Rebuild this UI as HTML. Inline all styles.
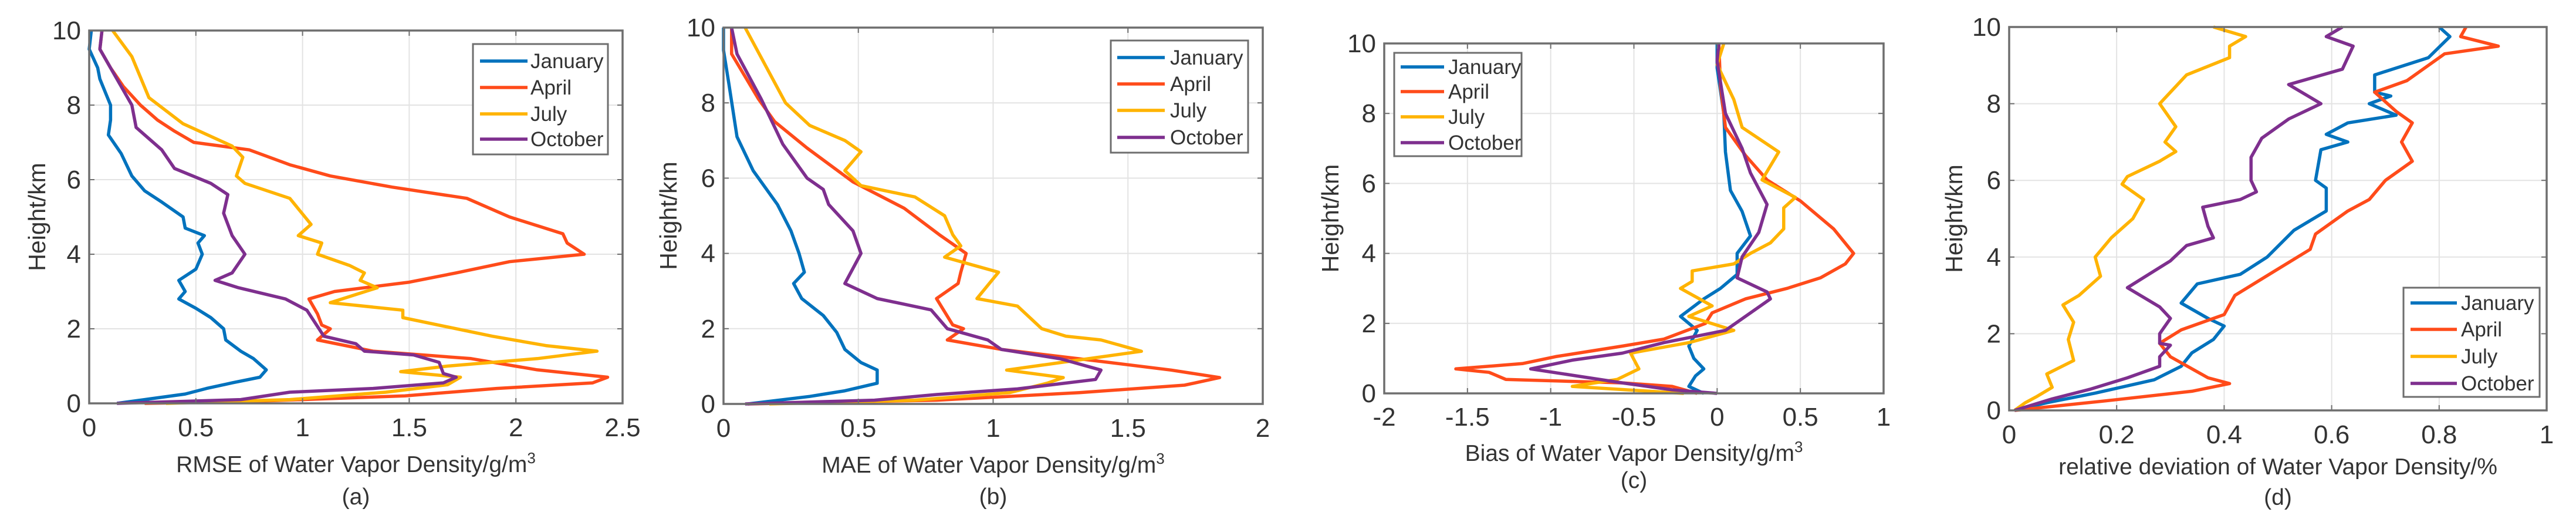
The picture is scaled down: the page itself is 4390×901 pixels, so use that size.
<!DOCTYPE html>
<html><head><meta charset="utf-8"><style>
html,body{margin:0;padding:0;background:#fff;}
svg{display:block;font-family:"Liberation Sans",Arial,sans-serif;}
</style></head>
<body>
<svg id="fig" width="4390" height="901" viewBox="0 0 4390 901" xmlns="http://www.w3.org/2000/svg"></svg>
<script>
// ---- shared ----
const seriesNames = ["January","April","July","October"];
const seriesColors = ["#0072BD","#FF4B1A","#FFB300","#7E2F8E"];
const yTicks = [0,2,4,6,8,10];

// ---- panel (a) RMSE ----
const aXTicks = [0,0.5,1,1.5,2,2.5];
const aXTickLabels = ["0","0.5","1","1.5","2","2.5"];
const aJanH = [10,9.5,9,8.7,8,7.6,7.2,6.7,6.1,5.7,5.4,5.0,4.7,4.5,4.3,4.0,3.6,3.3,3.0,2.8,2.55,2.3,2.0,1.7,1.4,1.2,0.9,0.7,0.55,0.4,0.25,0.1,0];
const aJanX = [0.01,0,0.04,0.05,0.1,0.1,0.09,0.15,0.2,0.26,0.34,0.44,0.45,0.54,0.51,0.53,0.5,0.42,0.45,0.42,0.5,0.57,0.63,0.64,0.71,0.77,0.83,0.8,0.67,0.55,0.45,0.26,0.13];
const aAprH = [10,9.5,9,8.5,8,7.6,7.3,7,6.8,6.4,6.1,5.8,5.5,5,4.55,4.3,4,3.8,3.5,3.25,3.0,2.8,2.4,2.1,2.0,1.7,1.4,1.2,0.9,0.7,0.55,0.4,0.2,0.05,0];
const aAprX = [0.06,0.05,0.1,0.16,0.24,0.32,0.4,0.49,0.75,0.94,1.13,1.42,1.77,1.97,2.22,2.24,2.32,1.97,1.72,1.5,1.15,1.03,1.07,1.09,1.13,1.07,1.33,1.79,2.1,2.43,2.36,1.91,1.48,0.75,0.26];
const aJulH = [10,9.3,8.2,7.5,6.9,6.6,6.1,5.9,5.5,4.8,4.5,4.3,4.0,3.7,3.5,3.3,3.1,2.7,2.5,2.3,1.8,1.55,1.4,1.2,1.0,0.85,0.7,0.5,0.3,0.1,0];
const aJulX = [0.11,0.2,0.28,0.44,0.67,0.72,0.69,0.73,0.94,1.04,0.98,1.09,1.07,1.22,1.29,1.27,1.35,1.13,1.47,1.47,1.89,2.14,2.38,2.1,1.68,1.46,1.74,1.68,1.39,0.94,0.36];
const aOctH = [10,9.5,8.9,8,7.4,6.8,6.3,5.9,5.6,5.1,4.5,4,3.5,3.3,3.1,2.8,2.5,1.8,1.6,1.4,1.3,1.1,0.8,0.7,0.55,0.4,0.3,0.1,0];
const aOctX = [0.06,0.05,0.11,0.2,0.22,0.34,0.4,0.57,0.65,0.63,0.67,0.73,0.67,0.59,0.7,0.92,1.02,1.1,1.25,1.29,1.52,1.64,1.66,1.72,1.66,1.33,0.94,0.71,0.13];

// ---- panel (b) MAE ----
const bXTicks = [0,0.5,1,1.5,2];
const bXTickLabels = ["0","0.5","1","1.5","2"];
const bJanH = [10,9.4,8.5,7.1,6.2,5.3,4.6,4,3.5,3.2,2.8,2.35,1.9,1.45,1.1,0.9,0.55,0.35,0.2,0];
const bJanX = [0,0,0.02,0.05,0.11,0.2,0.25,0.28,0.3,0.26,0.29,0.37,0.42,0.45,0.51,0.57,0.57,0.45,0.32,0.09];
const bAprH = [10,9.3,8.1,7.5,6.8,5.9,5.2,4.5,4,3.5,3.2,2.8,2.1,2.0,1.7,1.45,1.2,0.9,0.7,0.5,0.3,0.1,0];
const bAprX = [0.03,0.03,0.13,0.19,0.31,0.48,0.67,0.8,0.9,0.88,0.87,0.79,0.85,0.89,0.83,1.03,1.32,1.66,1.84,1.71,1.32,0.79,0.09];
const bJulH = [10,8,7.4,7.0,6.7,6.2,5.8,5.5,5,4.5,4.2,3.9,3.5,2.8,2.6,2.0,1.8,1.7,1.4,1.1,0.9,0.7,0.55,0.3,0.1,0];
const bJulX = [0.08,0.23,0.32,0.45,0.51,0.45,0.51,0.71,0.82,0.85,0.88,0.82,1.02,0.94,1.09,1.18,1.27,1.4,1.55,1.25,1.05,1.26,1.2,1.06,0.71,0.17];
const bOctH = [10,9.3,8.1,6.9,6.0,5.7,5.3,4.6,4,3.2,2.8,2.5,2,1.7,1.45,1.2,0.9,0.65,0.4,0.25,0.1,0];
const bOctX = [0.03,0.05,0.14,0.22,0.31,0.37,0.39,0.48,0.51,0.45,0.57,0.77,0.83,0.98,1.03,1.25,1.4,1.38,1.09,0.79,0.56,0.08];

// ---- panel (c) Bias ----
const cXTicks = [-2,-1.5,-1,-0.5,0,0.5,1];
const cXTickLabels = ["-2","-1.5","-1","-0.5","0","0.5","1"];
const cJanH = [10,9.3,8,6.9,5.8,5.2,4.5,4,3.4,3,2.7,2.2,1.8,1.35,1.0,0.7,0.5,0.2,0];
const cJanX = [0,0,0.04,0.05,0.08,0.15,0.2,0.12,0.12,0.02,-0.08,-0.22,-0.12,-0.17,-0.14,-0.08,-0.13,-0.17,-0.08];
const cAprH = [10,8.8,7.6,6.8,6.1,5.5,4.7,4.0,3.7,3.3,3.0,2.7,2.3,2.0,1.55,1.35,1.05,0.85,0.7,0.6,0.4,0.3,0.2,0];
const cAprX = [0.01,0.02,0.05,0.17,0.3,0.5,0.7,0.82,0.77,0.62,0.42,0.17,-0.03,-0.07,-0.32,-0.57,-0.97,-1.17,-1.57,-1.37,-1.27,-0.57,-0.27,-0.12];
const cJulH = [10,9.4,8.4,7.6,6.9,6.1,5.6,5.3,4.7,4.3,4.0,3.7,3.5,3.2,3,2.5,2.2,1.8,1.45,1.15,0.7,0.4,0.2,0];
const cJulX = [0.04,0,0.1,0.15,0.37,0.27,0.47,0.4,0.4,0.32,0.2,0.1,-0.15,-0.15,-0.22,-0.03,-0.17,0.1,-0.17,-0.52,-0.47,-0.6,-0.87,-0.2];
const cOctH = [10,9.5,8,7,6.3,5.4,4.6,3.9,3.3,2.9,2.7,1.8,1.45,1.15,0.95,0.7,0.3,0.1,0];
const cOctX = [0.01,0,0.05,0.15,0.2,0.3,0.25,0.15,0.12,0.3,0.32,0.05,-0.32,-0.57,-0.87,-1.12,-0.57,-0.27,0];

// ---- panel (d) relative deviation ----
const dXTicks = [0,0.2,0.4,0.6,0.8,1];
const dXTickLabels = ["0","0.2","0.4","0.6","0.8","1"];
const dJanH = [10,9.75,9.2,8.75,8.3,8.2,8.0,7.7,7.5,7.2,7.0,6.8,6.0,5.8,5.2,4.7,4.0,3.55,3.3,2.8,2.4,2.2,1.85,1.5,1.15,0.8,0.45,0.2,0];
const dJanX = [0.8,0.82,0.78,0.68,0.68,0.71,0.67,0.72,0.63,0.59,0.63,0.58,0.57,0.59,0.59,0.53,0.48,0.43,0.35,0.32,0.37,0.4,0.38,0.34,0.32,0.27,0.16,0.07,0.01];
const dAprH = [10,9.75,9.5,9.3,8.6,8.3,7.8,7.5,7.0,6.5,6.0,5.5,5.2,4.6,4.2,3.6,3.0,2.5,2.1,1.75,1.4,0.85,0.7,0.5,0.25,0];
const dAprX = [0.85,0.84,0.91,0.81,0.74,0.68,0.72,0.75,0.73,0.75,0.7,0.67,0.63,0.57,0.56,0.49,0.42,0.4,0.32,0.28,0.3,0.37,0.41,0.34,0.18,0.01];
const dJulH = [10,9.75,9.5,9.2,8.75,8.0,7.4,7.0,6.75,6.5,6.1,5.9,5.5,5.0,4.5,4.0,3.5,3.0,2.75,2.3,1.85,1.3,0.95,0.6,0.35,0.2,0];
const dJulX = [0.38,0.44,0.41,0.41,0.33,0.28,0.31,0.29,0.31,0.28,0.22,0.21,0.25,0.23,0.19,0.16,0.17,0.13,0.1,0.12,0.11,0.12,0.07,0.08,0.05,0.03,0.01];
const dOctH = [10,9.75,9.5,8.9,8.5,8.0,7.6,7.1,6.6,6.25,6.0,5.7,5.5,5.3,4.8,4.5,4.3,3.9,3.2,2.7,2.4,2.0,1.75,1.7,1.4,1.15,0.85,0.55,0.3,0];
const dOctX = [0.62,0.59,0.64,0.62,0.52,0.58,0.52,0.47,0.45,0.45,0.45,0.46,0.43,0.36,0.37,0.38,0.33,0.3,0.22,0.28,0.3,0.28,0.28,0.3,0.28,0.28,0.22,0.15,0.08,0.01];

const panels = [
  {id:"a", L:152,R:1061,T:52,B:687, xmin:0,xmax:2.5, ticks:aXTicks, labels:aXTickLabels,
   title:"RMSE of Water Vapor Density/g/m", sup:true, tickY:728, titleY:791, capY:846, ylabX:63,
   leg:{x:806,y:75,w:230,h:188,rows:[104,149,194,237],lx1:818,lx2:899,tx:904},
   data:[[aJanX,aJanH],[aAprX,aAprH],[aJulX,aJulH],[aOctX,aOctH]]},
  {id:"b", L:1233,R:2152,T:47,B:688, xmin:0,xmax:2, ticks:bXTicks, labels:bXTickLabels,
   title:"MAE of Water Vapor Density/g/m", sup:true, tickY:729, titleY:792, capY:846, ylabX:1139,
   leg:{x:1893,y:69,w:234,h:191,rows:[98,143,188,234],lx1:1904,lx2:1985,tx:1994},
   data:[[bJanX,bJanH],[bAprX,bAprH],[bJulX,bJulH],[bOctX,bOctH]]},
  {id:"c", L:2359,R:3210,T:74,B:670, xmin:-2,xmax:1, ticks:cXTicks, labels:cXTickLabels,
   title:"Bias of Water Vapor Density/g/m", sup:true, tickY:710, titleY:772, capY:818, ylabX:2267,
   leg:{x:2376,y:90,w:217,h:176,rows:[114,156,199,243],lx1:2387,lx2:2461,tx:2468},
   data:[[cJanX,cJanH],[cAprX,cAprH],[cJulX,cJulH],[cOctX,cOctH]]},
  {id:"d", L:3424,R:4340,T:46,B:699, xmin:0,xmax:1, ticks:dXTicks, labels:dXTickLabels,
   title:"relative deviation of Water Vapor Density/%", sup:false, tickY:740, titleY:795, capY:847, ylabX:3330,
   leg:{x:4096,y:490,w:232,h:186,rows:[516,561,607,653],lx1:4108,lx2:4187,tx:4194},
   data:[[dJanX,dJanH],[dAprX,dAprH],[dJulX,dJulH],[dOctX,dOctH]]}
];

const NS="http://www.w3.org/2000/svg";
const svg=document.getElementById("fig");
function mk(tag,attrs,parent){const e=document.createElementNS(NS,tag);for(const k in attrs)e.setAttribute(k,attrs[k]);(parent||svg).appendChild(e);return e;}

panels.forEach(p=>{
  const g=mk("g",{});
  
  
  const xs=v=>p.L+(v-p.xmin)/(p.xmax-p.xmin)*(p.R-p.L);
  const ys=v=>p.B-v/10*(p.B-p.T);
  p.ticks.forEach(t=>{const l=mk("line",{x1:xs(t),x2:xs(t),y1:p.T,y2:p.B,stroke:"#e3e3e3","stroke-width":2},g);
    
    });
  yTicks.forEach(t=>{const l=mk("line",{x1:p.L,x2:p.R,y1:ys(t),y2:ys(t),stroke:"#e3e3e3","stroke-width":2},g);
    
    });
  p.data.forEach((d,i)=>{
    const pts=d[0].map((x,k)=>xs(x).toFixed(1)+","+ys(d[1][k]).toFixed(1)).join(" ");
    const pl=mk("polyline",{points:pts,fill:"none",stroke:seriesColors[i],"stroke-width":5.5,"stroke-linejoin":"round"},g);
    
    
  });
  const bx=mk("rect",{x:p.L,y:p.T,width:p.R-p.L,height:p.B-p.T,fill:"none",stroke:"#6e6e6e","stroke-width":3.5},g);
  
  
  p.ticks.forEach((t,i)=>{
    mk("line",{x1:xs(t),x2:xs(t),y1:p.B,y2:p.B-9,stroke:"#6e6e6e","stroke-width":2},g);
    mk("line",{x1:xs(t),x2:xs(t),y1:p.T,y2:p.T+9,stroke:"#6e6e6e","stroke-width":2},g);
    const tx=mk("text",{x:xs(t),y:p.tickY+15,"text-anchor":"middle","font-size":44,fill:"#333"},g);
    tx.textContent=p.labels[i];
    
    
  });
  yTicks.forEach(t=>{
    mk("line",{x1:p.L,x2:p.L+9,y1:ys(t),y2:ys(t),stroke:"#6e6e6e","stroke-width":2},g);
    mk("line",{x1:p.R,x2:p.R-9,y1:ys(t),y2:ys(t),stroke:"#6e6e6e","stroke-width":2},g);
    const tx=mk("text",{x:p.L-14,y:ys(t)+15,"text-anchor":"end","font-size":44,fill:"#333"},g);
    tx.textContent=String(t);
    
    
  });
  const yl=mk("text",{x:p.ylabX,y:(p.T+p.B)/2,"text-anchor":"middle","font-size":41,fill:"#333",transform:`rotate(-90 ${p.ylabX} ${(p.T+p.B)/2})`,dy:14},g);
  yl.textContent="Height/km";
  
  
  const cx=(p.L+p.R)/2;
  const xt=mk("text",{x:cx,y:p.titleY+13,"text-anchor":"middle","font-size":39,fill:"#333"},g);
  xt.textContent=p.title;
  if(p.sup){const s=mk("tspan",{dy:-15,"font-size":26},xt);s.textContent="3";}
  
  
  const cp=mk("text",{x:cx,y:p.capY+13,"text-anchor":"middle","font-size":39,fill:"#333"},g);
  cp.textContent="("+p.id+")";
  
  
  const lg=mk("g",{},g);
  
  
  mk("rect",{x:p.leg.x,y:p.leg.y,width:p.leg.w,height:p.leg.h,fill:"#fff",stroke:"#6e6e6e","stroke-width":3},lg);
  seriesNames.forEach((n,i)=>{
    const e=mk("g",{},lg);
    
    
    mk("line",{x1:p.leg.lx1,x2:p.leg.lx2,y1:p.leg.rows[i],y2:p.leg.rows[i],stroke:seriesColors[i],"stroke-width":5.5},e);
    const t=mk("text",{x:p.leg.tx,y:p.leg.rows[i]+12,"font-size":35,fill:"#333",textLength:(p.leg.x+p.leg.w-6-p.leg.tx)*(n.length/7)>0?undefined:0},e);
    t.removeAttribute("textLength");
    t.textContent=n;
  });
});
</script>
</body></html>
